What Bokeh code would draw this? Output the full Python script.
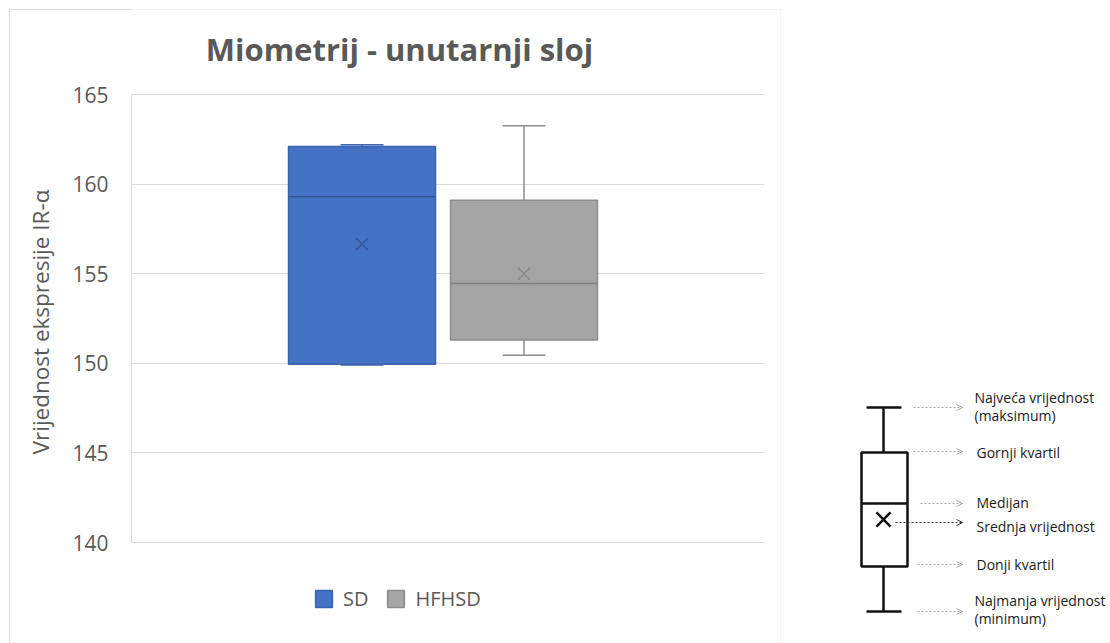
from bokeh.plotting import figure
from bokeh.models import (ColumnDataSource, Range1d, FixedTicker, Label, Legend,
                          LegendItem, BoxAnnotation, Arrow, OpenHead)
from bokeh.core.properties import value
from bokeh.embed import file_html
from bokeh.resources import INLINE

# ---------------- data ----------------
groups = ["SD", "HFHSD"]
minimum = [149.9, 150.45]
q1 = [149.95, 151.3]
median = [159.3, 154.45]
q3 = [162.1, 159.1]
maximum = [162.2, 163.25]
mean = [156.65, 155.0]
y_ticks = [140, 145, 150, 155, 160, 165]

title_text = "Miometrij - unutarnji sloj"
y_label = "Vrijednost ekspresije IR-α"

key_lines = ["Najveća vrijednost", "(maksimum)", "Gornji kvartil", "Medijan",
             "Srednja vrijednost", "Donji kvartil", "Najmanja vrijednost", "(minimum)"]

# ---------------- styles / layout ----------------
fill_colors = ["#4472C4", "#A5A5A5"]
line_colors = ["#3A64B0", "#8C8C8C"]
median_colors = ["#2F5597", "#7F7F7F"]
mean_colors = ["#3558A0", "#8A8A8A"]
whisker_color = "#8C8C8C"
text_gray = "#595959"
border_gray = "#D9D9D9"
FONT = "Open Sans"

W, H = 1110, 643
FL = 131                  # frame left (px)
Y_TOP_PX, Y_BOT_PX = 94, 542   # pixel rows of 165 and 140
ppu_y = (Y_BOT_PX - Y_TOP_PX) / (y_ticks[-1] - y_ticks[0])
ppu_x = 162.0
x0 = -(361.5 - FL) / ppu_x
box_w = 147 / ppu_x
cap_w = 43 / ppu_x

p = figure(width=W, height=H,
           x_range=Range1d(x0, x0 + (W - FL) / ppu_x),
           y_range=Range1d(y_ticks[0] - (H - Y_BOT_PX) / ppu_y, y_ticks[-1] + Y_TOP_PX / ppu_y),
           x_axis_type=None, output_backend="svg", toolbar_location=None,
           min_border_left=FL, min_border_right=0, min_border_top=0, min_border_bottom=0,
           outline_line_color=None)
p.background_fill_color = "white"
p.border_fill_color = None
# left / top-left part of the chart border lies outside the plot frame: draw it as page background
p.styles = {
    "background-color": "white",
    "background-image": f"linear-gradient({border_gray},{border_gray}), linear-gradient({border_gray},{border_gray})",
    "background-size": f"1px {H}px, {FL}px 1px",
    "background-position": "9px 9px, 9px 9px",
    "background-repeat": "no-repeat",
}
# pixel-space helper ranges for decorations (title, key diagram)
p.extra_x_ranges = {"px": Range1d(FL, W)}
p.extra_y_ranges = {"py": Range1d(H, 0)}

p.yaxis.bounds = (y_ticks[0], y_ticks[-1])
p.yaxis.ticker = FixedTicker(ticks=y_ticks)
p.yaxis.major_label_text_font_size = "21px"
p.yaxis.major_label_text_font = FONT
p.yaxis.major_label_text_color = text_gray
p.yaxis.major_tick_line_color = None
p.yaxis.minor_tick_line_color = None
p.yaxis.axis_line_color = border_gray
p.yaxis.major_label_standoff = 17
p.yaxis.axis_label = y_label
p.yaxis.axis_label_text_font = FONT
p.yaxis.axis_label_text_font_size = "22.5px"
p.yaxis.axis_label_text_font_style = "normal"
p.yaxis.axis_label_text_color = text_gray
p.yaxis.axis_label_standoff = 13
p.ygrid.grid_line_color = border_gray
p.ygrid.grid_line_width = 1

# mask grid lines to the right of the chart's plot area
p.add_layout(BoxAnnotation(left=764, right=W, top=0, bottom=H,
                           left_units="canvas", right_units="canvas",
                           top_units="canvas", bottom_units="canvas",
                           fill_color="white", fill_alpha=1, line_color=None, level="underlay"))
# chart border (part inside the frame)
p.add_layout(BoxAnnotation(left=9, right=780, top=9, bottom=H + 20,
                           left_units="canvas", right_units="canvas",
                           top_units="canvas", bottom_units="canvas",
                           fill_alpha=0, line_color=border_gray, line_width=1))

renderers = []
for i, g in enumerate(groups):
    x = i
    src = ColumnDataSource(dict(x=[x], q1=[q1[i]], q3=[q3[i]], lo=[minimum[i]], hi=[maximum[i]],
                                med=[median[i]], mean=[mean[i]],
                                xl=[x - box_w / 2], xr=[x + box_w / 2],
                                cl=[x - cap_w / 2], cr=[x + cap_w / 2]))
    wc = whisker_color if i else line_colors[i]
    p.segment(x0="x", y0="q3", x1="x", y1="hi", source=src, line_color=wc, line_width=1.5)
    p.segment(x0="x", y0="q1", x1="x", y1="lo", source=src, line_color=wc, line_width=1.5)
    p.segment(x0="cl", y0="hi", x1="cr", y1="hi", source=src, line_color=wc, line_width=1.5)
    p.segment(x0="cl", y0="lo", x1="cr", y1="lo", source=src, line_color=wc, line_width=1.5)
    r = p.vbar(x="x", top="q3", bottom="q1", width=box_w, source=src,
               fill_color=fill_colors[i], line_color=line_colors[i], line_width=1.5)
    renderers.append(r)
    p.segment(x0="xl", y0="med", x1="xr", y1="med", source=src, line_color=median_colors[i], line_width=1.5)
    p.scatter(x="x", y="mean", source=src, marker="x", size=17, line_color=mean_colors[i], line_width=1.5)

legend = Legend(items=[LegendItem(label=g, renderers=[r]) for g, r in zip(groups, renderers)],
                orientation="horizontal", location=(313 - FL, H - 612), padding=0, margin=0,
                border_line_color=None, background_fill_alpha=0,
                glyph_width=21, glyph_height=21, label_text_font_size="20px",
                label_text_font=FONT, label_text_color=text_gray, spacing=17, label_standoff=9)
p.add_layout(legend)

p.add_layout(Label(x=399, y=48, x_range_name="px", y_range_name="py", text=title_text,
                   text_align="center", text_baseline="middle", text_font_size="31px",
                   text_font_style="bold", text_font=FONT, text_color=text_gray))

# ---------------- key diagram (pixel space) ----------------
k = dict(line_color="#111111", line_width=2.5, x_range_name="px", y_range_name="py")
p.segment(x0=[883, 883, 866, 866, 861], y0=[407, 566, 407, 611, 503],
          x1=[883, 883, 901, 901, 907], y1=[452, 611, 407, 611, 503], **k)
p.quad(left=[861], right=[907], top=[452], bottom=[566], fill_color=None, **k)
p.scatter(x=[883], y=[519], marker="x", size=20, line_color="#111111", line_width=2.5,
          x_range_name="px", y_range_name="py")

arrow_y = [407, 451, 503, 522, 564, 611]
arrow_x0 = [913, 913, 920, 895, 917, 917]
for j, (ay, ax) in enumerate(zip(arrow_y, arrow_x0)):
    col = "#333333" if j == 3 else "#A6A6A6"
    p.add_layout(Arrow(x_start=ax, y_start=ay, x_end=962, y_end=ay, line_color=col,
                       line_width=1, line_dash="2 2", x_range_name="px", y_range_name="py",
                       end=OpenHead(size=6, line_color=col, line_width=1)))

text_y = [397, 415, 452, 502, 525.5, 564, 600, 618]
text_x = [974, 974, 976, 976, 976, 976, 974, 974]
p.text(x=text_x, y=text_y, text=key_lines, text_font=value(FONT), text_font_size="14px",
       text_color="#1A1A1A", text_baseline="middle", text_align="left",
       x_range_name="px", y_range_name="py")

open("out.html", "w").write(file_html(p, INLINE))
